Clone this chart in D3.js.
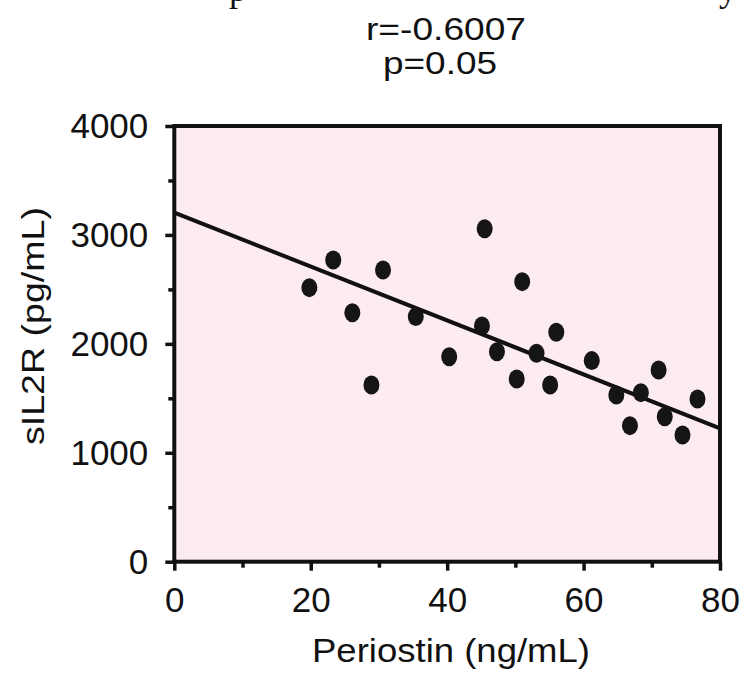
<!DOCTYPE html>
<html lang="en">
<head>
    <meta charset="UTF-8">
    <title>sIL2R vs Periostin</title>
    <script src="https://cdn.jsdelivr.net/npm/d3@7"></script>
    <style>
        body { margin: 0; background: #fff; }
        svg text { font-family: "Liberation Sans", Arial, sans-serif; fill: #111; }
        .tick line { stroke: #111; stroke-width: 3.5px; }
        .frame { fill: #fdebf3; stroke: #111; stroke-width: 4px; }
        .fit { stroke: #111; stroke-width: 4px; fill: none; }
        .dot { fill: #151515; }
    </style>
</head>
<body>
<svg id="chart" width="742" height="676"></svg>
<script>
    // values
    let periostin = [19.8, 23.3, 26.1, 28.9, 30.6, 35.4, 40.3, 45.1, 45.5, 47.3, 50.2, 51.0,
                     53.1, 55.1, 56.0, 61.2, 64.8, 66.8, 68.4, 71.0, 71.9, 74.5, 76.7];
    let sil2r = [2516, 2770, 2286, 1622, 2678, 2250, 1882, 2164, 3056, 1928, 1677, 2571,
                 1913, 1623, 2106, 1846, 1531, 1249, 1552, 1760, 1331, 1163, 1494];
    let xTicks = [0, 20, 40, 60, 80];
    let xMinor = [10, 30, 50, 70];
    let yTicks = [0, 1000, 2000, 3000, 4000];
    let yMinor = [500, 1500, 2500, 3500];
    let fitIntercept = 3205;
    let fitSlope = -24.75;
    let stats = ["r=-0.6007", "p=0.05"];

    let svg = d3.select("#chart");
    let plotL = 174.3, plotR = 720, plotT = 126, plotB = 561.7;

    let x = d3.scaleLinear().domain([0, 80]).range([plotL, plotR]);
    let y = d3.scaleLinear().domain([0, 4000]).range([plotB, plotT]);

    // cut-off descenders of the line above the figure
    svg.append("text").attr("x", 238).attr("y", 1).attr("text-anchor", "middle")
        .style("font-family", "'Liberation Serif', serif").style("font-size", "36px").text("p");
    svg.append("text").attr("x", 728).attr("y", 1).attr("text-anchor", "middle")
        .style("font-family", "'Liberation Serif', serif").style("font-size", "36px").text("y");

    svg.append("rect").attr("class", "frame")
        .attr("x", plotL).attr("y", plotT)
        .attr("width", plotR - plotL).attr("height", plotB - plotT);

    // ticks
    let yAxis = svg.append("g").attr("transform", `translate(${plotL},0)`)
        .call(d3.axisLeft(y).tickValues(yTicks).tickSize(9).tickPadding(17).tickFormat(d3.format("d")));
    svg.append("g").attr("transform", `translate(${plotL},0)`)
        .call(d3.axisLeft(y).tickValues(yMinor).tickSize(6).tickFormat(""));
    let xAxis = svg.append("g").attr("transform", `translate(0,${plotB})`)
        .call(d3.axisBottom(x).tickValues(xTicks).tickSize(9).tickPadding(16).tickFormat(d3.format("d")));
    svg.append("g").attr("transform", `translate(0,${plotB})`)
        .call(d3.axisBottom(x).tickValues(xMinor).tickSize(6).tickFormat(""));
    svg.selectAll(".domain").remove();
    svg.selectAll(".tick text").style("font-size", "35px").attr("fill", "#111");
    svg.selectAll("g").attr("font-family", null).attr("font-size", null);
    yAxis.selectAll(".tick text").attr("dy", "0.34em");

    // regression line
    svg.append("line").attr("class", "fit")
        .attr("x1", x(0)).attr("y1", y(fitIntercept))
        .attr("x2", x(80)).attr("y2", y(fitIntercept + fitSlope * 80));

    // points
    svg.selectAll("ellipse.dot")
        .data(periostin.map((v, i) => [v, sil2r[i]]))
        .enter().append("ellipse")
        .attr("class", "dot")
        .attr("cx", d => x(d[0])).attr("cy", d => y(d[1]))
        .attr("rx", 8).attr("ry", 9.5);

    // titles
    svg.append("text").attr("x", 451).attr("y", 661.7).attr("text-anchor", "middle")
        .attr("textLength", 278).attr("lengthAdjust", "spacingAndGlyphs")
        .style("font-size", "32.5px").text("Periostin (ng/mL)");
    svg.append("text").attr("transform", "translate(44,326) rotate(-90)")
        .attr("text-anchor", "middle")
        .attr("textLength", 238).attr("lengthAdjust", "spacingAndGlyphs")
        .style("font-size", "31px").text("sIL2R (pg/mL)");

    svg.selectAll("text.stat").data(stats).enter().append("text")
        .attr("class", "stat")
        .attr("x", (d, i) => i ? 440 : 446)
        .attr("y", (d, i) => 40 + i * 34)
        .attr("text-anchor", "middle")
        .attr("textLength", (d, i) => i ? 114 : 160).attr("lengthAdjust", "spacingAndGlyphs")
        .style("font-size", "32px").text(d => d);
</script>
</body>
</html>
